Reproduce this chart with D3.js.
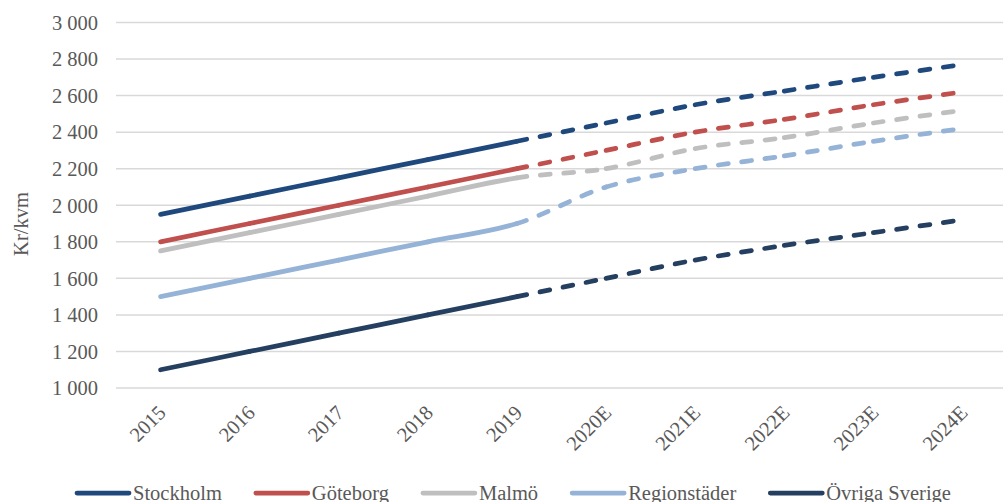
<!DOCTYPE html>
<html>
<head>
<meta charset="utf-8">
<script src="https://cdnjs.cloudflare.com/ajax/libs/d3/7.8.5/d3.min.js"></script>
<style>
  html, body { margin: 0; padding: 0; background: #fff; }
  svg { display: block; font-family: "Liberation Serif", "Times New Roman", serif; }
</style>
</head>
<body>
<div id="chart"></div>
<script>
// data
const years = ["2015", "2016", "2017", "2018", "2019", "2020E", "2021E", "2022E", "2023E", "2024E"];
const stockholm = [1950, 2050, 2150, 2250, 2350, 2450, 2550, 2625, 2700, 2770];
const goteborg = [1800, 1900, 2000, 2100, 2200, 2300, 2400, 2470, 2550, 2620];
const malmo = [1750, 1850, 1950, 2050, 2150, 2200, 2310, 2370, 2450, 2520];
const regionstader = [1500, 1600, 1700, 1800, 1900, 2100, 2200, 2270, 2350, 2420];
const ovriga = [1100, 1200, 1300, 1400, 1500, 1600, 1700, 1780, 1850, 1920];
const yTicks = [1000, 1200, 1400, 1600, 1800, 2000, 2200, 2400, 2600, 2800, 3000];
const lastActual = 4; // 2019, after that the values are forecasts (dashed)

const series = [
  { name: "Stockholm", values: stockholm, color: "#1F497D" },
  { name: "Göteborg", values: goteborg, color: "#C0504D" },
  { name: "Malmö", values: malmo, color: "#BFBFBF" },
  { name: "Regionstäder", values: regionstader, color: "#95B3D7" },
  { name: "Övriga Sverige", values: ovriga, color: "#243F60" }
];

const width = 1003;
const height = 502;
const fontSize = "20.5px";
const textColor = "#595959";

const svg = d3.select("#chart").append("svg")
  .attr("width", width)
  .attr("height", height);

// scales
const xScale = d3.scalePoint()
  .domain(years)
  .range([116, 1007])
  .padding(0.5);

const yScale = d3.scaleLinear()
  .domain([1000, 3000])
  .range([388, 22.5]);

const fmt = d3.formatLocale({ decimal: ",", thousands: " ", grouping: [3], currency: ["", ""] }).format(",");

// grid lines
svg.append("g")
  .selectAll("line")
  .data(yTicks)
  .enter()
  .append("line")
  .attr("x1", 116)
  .attr("x2", 1007)
  .attr("y1", d => yScale(d))
  .attr("y2", d => yScale(d))
  .attr("stroke", "#D9D9D9")
  .attr("stroke-width", 1.5);

// y axis (labels only)
const yAxis = svg.append("g")
  .attr("transform", "translate(98,0)")
  .call(d3.axisLeft(yScale).tickValues(yTicks).tickFormat(fmt).tickSize(0).tickPadding(0));
yAxis.select(".domain").remove();
yAxis.selectAll("text")
  .attr("font-family", "Liberation Serif, Times New Roman, serif")
  .attr("font-size", fontSize)
  .attr("fill", textColor)
  .attr("dy", "0.33em");

// x axis (rotated labels)
const xAxis = svg.append("g")
  .attr("transform", "translate(0,388)")
  .call(d3.axisBottom(xScale).tickSize(0));
xAxis.select(".domain").remove();
xAxis.selectAll("text")
  .attr("font-family", "Liberation Serif, Times New Roman, serif")
  .attr("font-size", fontSize)
  .attr("fill", textColor)
  .attr("text-anchor", "end")
  .attr("y", 0)
  .attr("dy", 0)
  .attr("transform", "translate(6,26) rotate(-45)");

// y axis title
svg.append("text")
  .attr("transform", "translate(28,224) rotate(-90)")
  .attr("text-anchor", "middle")
  .attr("font-size", fontSize)
  .attr("fill", textColor)
  .text("Kr/kvm");

// smoothed line, drawn segment by segment so the dash pattern restarts at each point
function segmentPath(pts, i) {
  const p0 = pts[Math.max(i - 1, 0)];
  const p1 = pts[i];
  const p2 = pts[i + 1];
  const p3 = pts[Math.min(i + 2, pts.length - 1)];
  const path = d3.path();
  path.moveTo(p1[0], p1[1]);
  path.bezierCurveTo(
    p1[0] + (p2[0] - p0[0]) / 6, p1[1] + (p2[1] - p0[1]) / 6,
    p2[0] - (p3[0] - p1[0]) / 6, p2[1] - (p3[1] - p1[1]) / 6,
    p2[0], p2[1]
  );
  return path.toString();
}

const lines = svg.append("g");
series.forEach(s => {
  const pts = s.values.map((v, i) => [xScale(years[i]), yScale(v)]);
  const segs = d3.range(pts.length - 1);
  lines.append("g")
    .selectAll("path")
    .data(segs)
    .enter()
    .append("path")
    .attr("d", i => segmentPath(pts, i))
    .attr("fill", "none")
    .attr("stroke", s.color)
    .attr("stroke-width", 4.75)
    .attr("stroke-linecap", "round")
    .attr("stroke-dasharray", i => i >= lastActual ? "10,13.5" : null);
});

// legend
const legend = svg.append("g").attr("transform", "translate(75,493)");
let lx = 0;
series.forEach(s => {
  legend.append("line")
    .attr("x1", lx + 2)
    .attr("x2", lx + 54)
    .attr("y1", 0)
    .attr("y2", 0)
    .attr("stroke", s.color)
    .attr("stroke-width", 4.75)
    .attr("stroke-linecap", "round");
  const t = legend.append("text")
    .attr("x", lx + 58)
    .attr("y", 7)
    .attr("font-size", fontSize)
    .attr("fill", textColor)
    .text(s.name);
  lx += 58 + t.node().getComputedTextLength() + 32;
});
</script>
</body>
</html>
